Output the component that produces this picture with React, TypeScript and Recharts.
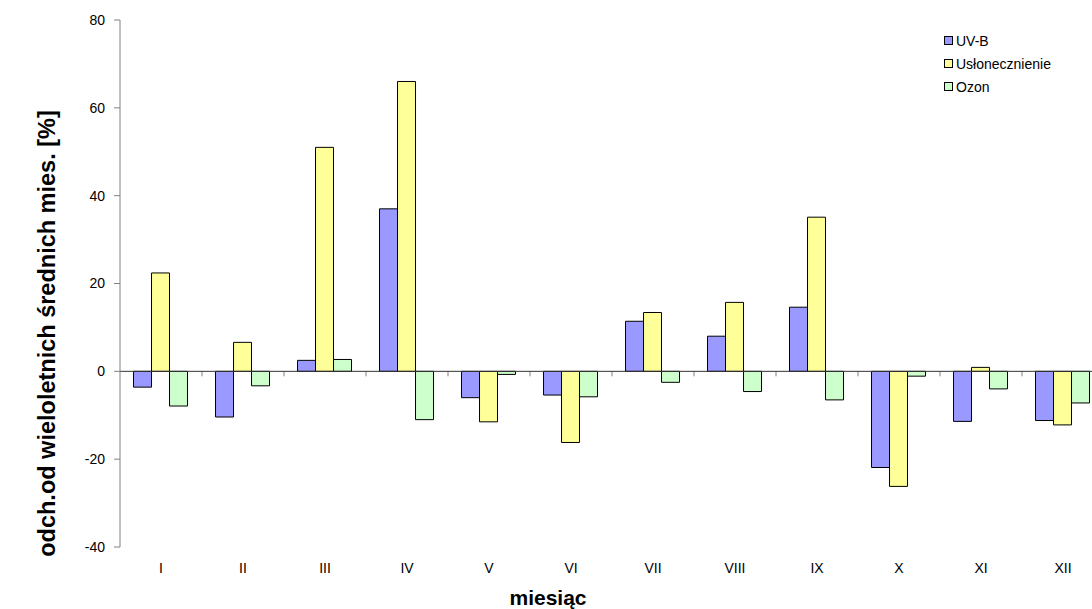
import { Bar, BarChart, Legend, ReferenceLine, XAxis, YAxis } from "recharts";

const months = ["I", "II", "III", "IV", "V", "VI", "VII", "VIII", "IX", "X", "XI", "XII"];
const uvb = [-3.6, -10.4, 2.5, 37, -6.0, -5.4, 11.4, 8.0, 14.6, -21.9, -11.4, -11.2];
const sunshine = [22.4, 6.6, 51, 66, -11.5, -16.2, 13.4, 15.7, 35.1, -26.2, 0.9, -12.2];
const ozone = [-7.9, -3.3, 2.7, -11, -0.7, -5.8, -2.5, -4.6, -6.5, -1.1, -4.0, -7.2];
const yTicks = [-40, -20, 0, 20, 40, 60, 80];
const seriesOrder = ["UV-B", "Usłonecznienie", "Ozon"];

const FONT = "Arial, 'Liberation Sans', sans-serif";
const LEGEND_W = 150;

const data = months.map((m, i) => ({ month: m, uvb: uvb[i], sun: sunshine[i], ozone: ozone[i] }));

function ZeroAxis(props: any) {
  const { x1, y1, x2 } = props;
  const step = (x2 - x1) / months.length;
  return (
    <g>
      {months.map((m, i) => (
        <line key={m} x1={x1 + (i + 1) * step} x2={x1 + (i + 1) * step} y1={y1} y2={y1 + 5} stroke="#808080" />
      ))}
      <line x1={x1} y1={y1} x2={x2} y2={y1} stroke="#333" strokeWidth={1} />
    </g>
  );
}

function LegendBox(props: any) {
  const items = [...(props.payload || [])].sort(
    (a: any, b: any) => seriesOrder.indexOf(a.value) - seriesOrder.indexOf(b.value)
  );
  return (
    <div style={{ fontFamily: FONT, fontSize: 14, color: "#000" }}>
      {items.map((p: any) => (
        <div key={p.value} style={{ display: "flex", alignItems: "center", height: 23 }}>
          <span style={{ width: 7, height: 7, background: p.color, border: "1px solid #000", marginRight: 3 }} />
          {p.value}
        </div>
      ))}
    </div>
  );
}

export default function App() {
  return (
    <div style={{ position: "absolute", left: 0, top: 0, width: 1092, height: 609, overflow: "hidden", background: "#fff" }}>
      <BarChart
        width={1110 + LEGEND_W}
        height={609}
        data={data}
        margin={{ top: 20, right: 6, bottom: 0, left: 0 }}
        barCategoryGap="16.5%"
        barGap={0}
      >
        <XAxis
          dataKey="month"
          axisLine={false}
          tickLine={false}
          tickSize={0}
          tickMargin={16}
          height={62}
          interval={0}
          tick={{ fontSize: 14, fill: "#000", fontFamily: FONT }}
          label={({ viewBox }: any) => (
            <text
              x={viewBox.x + viewBox.width / 2 - 64}
              y={viewBox.y + 58}
              textAnchor="middle"
              fontFamily={FONT}
              fontWeight="bold"
              fontSize={21}
              fill="#000"
            >
              miesiąc
            </text>
          )}
        />
        <YAxis
          domain={[-40, 80]}
          ticks={yTicks}
          width={120}
          axisLine={{ stroke: "#808080" }}
          tickLine={{ stroke: "#808080" }}
          tickSize={6}
          tickMargin={9}
          tick={{ fontSize: 14, fill: "#000", fontFamily: FONT }}
          label={({ viewBox }: any) => {
            const cx = 47;
            const cy = viewBox.y + viewBox.height / 2 + 50;
            return (
              <text
                x={cx}
                y={cy}
                transform={`rotate(-90 ${cx} ${cy})`}
                textAnchor="middle"
                dominantBaseline="central"
                fontFamily={FONT}
                fontWeight="bold"
                fontSize={23.5}
                fill="#000"
              >
                odch.od wieloletnich średnich mies. [%]
              </text>
            );
          }}
        />
        <Legend
          layout="vertical"
          align="right"
          verticalAlign="top"
          content={<LegendBox />}
          wrapperStyle={{ left: 944, top: 29, width: LEGEND_W }}
        />
        <Bar dataKey="uvb" name="UV-B" fill="#9999FF" stroke="#000" strokeWidth={1} isAnimationActive={false} />
        <Bar dataKey="sun" name="Usłonecznienie" fill="#FFFF99" stroke="#000" strokeWidth={1} isAnimationActive={false} />
        <Bar dataKey="ozone" name="Ozon" fill="#CCFFCC" stroke="#000" strokeWidth={1} isAnimationActive={false} />
        <ReferenceLine y={0} shape={ZeroAxis} />
      </BarChart>
    </div>
  );
}
